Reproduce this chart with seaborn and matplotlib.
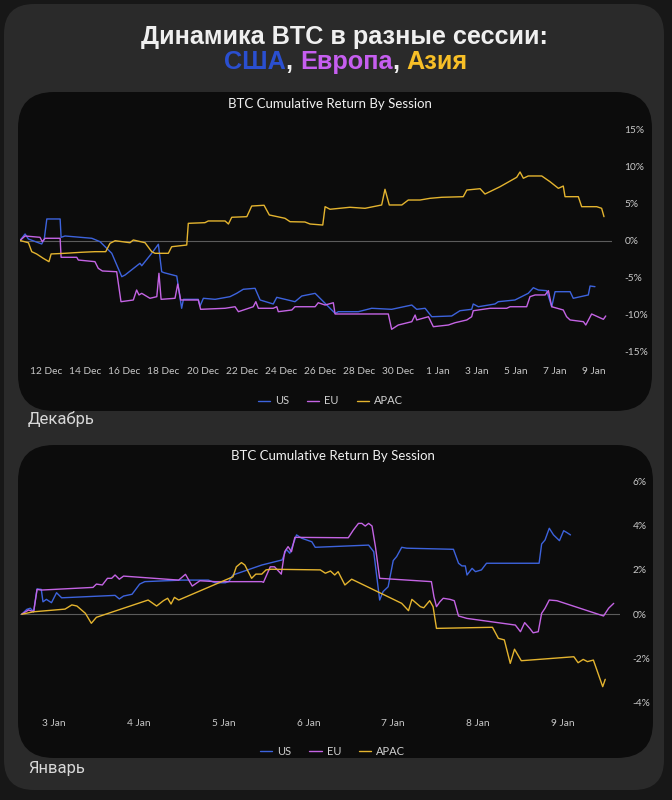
import pandas as pd
import seaborn as sns
import matplotlib.pyplot as plt
import matplotlib.dates as mdates
from matplotlib.ticker import FuncFormatter
from matplotlib.patches import FancyBboxPatch

# ---- December panel: time = days since 10 Dec 2024, ret = cumulative return, %
us_dec_t = [0.67, 0.93, 1.10, 1.78, 1.91, 2.04, 2.72, 2.77, 2.97, 4.34, 4.76, 5.36, 5.87, 6.04, 6.80,
            6.89, 7.40, 7.74, 7.91, 8.03, 8.68, 8.85, 8.93, 9.02, 9.78, 9.87, 10.04, 10.64, 11.40, 11.74,
            12.08, 12.68, 12.94, 13.61, 13.79, 14.72, 15.07, 15.75, 16.09, 16.77, 16.94, 17.96, 18.64,
            19.66, 20.69, 20.94, 21.37, 21.71, 22.73, 23.15, 23.75, 23.83, 24.09, 24.94, 25.11, 25.96,
            26.64, 26.90, 27.16, 27.58, 27.84, 28.01, 28.78, 28.94, 29.71, 29.80, 30.05]
us_dec_r = [0.00, 0.88, 0.20, -0.47, 0.20, 2.91, 2.91, 0.43, 0.61, 0.30, -0.16, -1.73, -4.89, -4.66, -3.08,
            -3.41, -1.73, -0.51, -4.22, -4.35, -4.80, -7.81, -9.16, -7.95, -7.95, -8.85, -7.81, -7.95, -7.59,
            -7.14, -6.59, -6.46, -8.04, -8.58, -7.68, -8.27, -7.50, -7.14, -8.04, -9.84, -9.62, -9.62, -9.16,
            -9.30, -8.72, -9.30, -9.16, -10.30, -10.20, -9.49, -9.30, -8.58, -8.95, -8.58, -8.27, -8.04,
            -7.14, -6.38, -6.69, -6.78, -8.95, -6.92, -6.92, -7.81, -7.36, -6.15, -6.24]

eu_dec_t = [0.67, 0.93, 1.69, 1.81, 1.95, 2.72, 2.77, 3.57, 3.65, 4.50, 4.67, 4.88, 5.61, 5.83, 6.46,
            6.63, 6.75, 6.89, 7.31, 7.66, 7.77, 7.88, 8.59, 8.73, 8.88, 9.78, 9.90, 11.15, 11.66, 11.83,
            12.59, 12.72, 12.85, 13.61, 13.79, 13.87, 14.56, 14.72, 15.75, 15.91, 16.26, 16.68, 16.77,
            19.49, 19.66, 20.00, 20.69, 20.86, 20.94, 21.54, 21.79, 22.56, 22.90, 23.50, 23.75, 23.83,
            24.69, 25.54, 25.71, 26.56, 26.73, 26.99, 27.50, 27.67, 27.84, 28.43, 28.60, 28.78, 29.46,
            29.58, 29.88, 30.48, 30.60]
eu_dec_r = [0.00, 0.61, 0.43, -0.16, 0.30, 0.30, -2.27, -2.27, -2.64, -2.86, -3.76, -4.12, -4.22, -8.27,
            -8.04, -6.69, -7.36, -7.14, -7.81, -7.59, -4.43, -7.95, -7.81, -5.88, -8.04, -8.04, -9.30, -9.16,
            -8.95, -9.62, -8.95, -8.27, -9.16, -9.16, -8.95, -9.62, -9.39, -8.95, -8.95, -8.41, -8.72, -8.41,
            -9.93, -9.93, -12.00, -11.42, -10.97, -10.07, -10.74, -10.30, -11.65, -11.42, -11.11, -10.74,
            -10.30, -9.49, -9.16, -9.16, -8.95, -8.95, -7.59, -7.36, -7.36, -6.78, -8.95, -9.39, -10.30,
            -10.74, -10.97, -11.42, -9.93, -10.65, -10.20]

apac_dec_t = [0.67, 1.10, 1.27, 1.52, 1.86, 2.15, 2.26, 2.97, 3.82, 4.50, 5.05, 5.27, 5.53, 6.29, 6.46,
              7.06, 7.40, 7.57, 8.25, 8.42, 9.19, 9.27, 10.12, 10.29, 11.15, 11.32, 11.49, 12.26, 12.51,
              13.14, 13.41, 14.21, 14.47, 15.23, 15.49, 16.14, 16.26, 16.51, 17.53, 18.30, 19.15, 19.32,
              19.54, 20.18, 20.51, 21.11, 21.62, 22.22, 23.32, 23.50, 24.18, 24.43, 25.20, 26.05, 26.22,
              26.39, 26.64, 27.33, 27.75, 28.18, 28.43, 28.52, 29.20, 29.37, 30.14, 30.39, 30.51]
apac_dec_r = [0.00, -0.30, -1.51, -1.82, -2.41, -2.86, -1.82, -1.73, -1.59, -1.51, -1.51, -0.38, -0.03,
              -0.30, 0.07, -0.30, -1.51, -1.73, -1.73, -0.84, -0.61, 2.32, 2.41, 2.64, 2.64, 2.23, 3.14,
              3.22, 4.66, 4.76, 3.45, 3.00, 2.54, 2.50, 2.23, 2.09, 4.57, 4.22, 4.49, 4.35, 4.80, 6.92,
              4.80, 4.80, 5.47, 5.47, 5.70, 5.84, 5.92, 6.82, 7.00, 6.28, 7.27, 8.54, 9.26, 8.41, 8.72,
              8.72, 7.95, 7.05, 7.36, 5.92, 5.92, 4.57, 4.57, 4.35, 3.22]

# ---- January panel: time = days since 2 Jan 2025
us_jan_t = [0.62, 0.68, 0.72, 0.76, 0.80, 0.85, 0.87, 0.91, 0.97, 1.03, 1.09, 1.72, 1.77, 1.82, 1.92,
            2.01, 2.07, 2.51, 2.82, 2.90, 3.02, 3.06, 3.11, 3.45, 3.69, 3.74, 3.78, 3.86, 3.92, 4.04,
            4.08, 4.71, 4.77, 4.84, 4.88, 4.94, 5.00, 5.04, 5.10, 5.16, 5.71, 5.77, 5.81, 5.85, 5.87,
            5.93, 5.97, 6.04, 6.10, 6.72, 6.75, 6.79, 6.84, 6.89, 6.96, 7.01, 7.05, 7.09]
us_jan_r = [0.00, 0.22, 0.27, 0.11, 1.14, 1.12, 0.56, 0.67, 0.52, 0.97, 0.74, 0.85, 0.69, 0.82, 0.90,
            1.36, 1.47, 1.54, 1.54, 1.42, 1.42, 1.47, 1.77, 2.22, 2.45, 2.93, 2.75, 3.58, 3.43, 3.27,
            3.02, 3.12, 2.82, 0.64, 1.02, 1.24, 2.42, 2.60, 3.02, 2.98, 2.93, 2.30, 2.18, 2.18, 1.77,
            2.07, 1.92, 2.00, 2.30, 2.30, 3.17, 3.35, 3.88, 3.58, 3.32, 3.77, 3.68, 3.58]

eu_jan_t = [0.62, 0.70, 0.76, 0.80, 0.85, 1.46, 1.50, 1.57, 1.63, 1.68, 1.72, 1.77, 1.82, 2.47, 2.55,
            2.63, 2.72, 2.90, 3.45, 3.47, 3.55, 3.60, 3.68, 3.72, 3.76, 3.80, 3.84, 4.47, 4.53, 4.59,
            4.63, 4.67, 4.71, 4.75, 4.79, 4.84, 5.45, 5.48, 5.51, 5.55, 5.59, 5.67, 5.72, 5.77, 5.87,
            6.44, 6.50, 6.55, 6.61, 6.65, 6.71, 6.75, 6.79, 6.84, 6.93, 7.48, 7.54, 7.60]
eu_jan_r = [0.00, 0.19, 0.11, 1.12, 1.09, 1.21, 1.36, 1.32, 1.62, 1.62, 1.77, 1.58, 1.72, 1.54, 1.80,
            1.27, 1.51, 1.47, 1.47, 1.44, 2.14, 2.14, 1.81, 2.82, 3.05, 2.82, 3.47, 3.45, 3.80, 4.10,
            4.10, 3.98, 4.10, 3.98, 3.05, 1.62, 1.47, 0.79, 0.34, 0.56, 0.72, 0.67, 0.61, -0.08, -0.19,
            -0.49, -0.79, -0.38, -0.64, -0.84, -0.79, 0.04, 0.27, 0.64, 0.61, -0.08, 0.27, 0.49]

apac_jan_t = [0.62, 0.76, 1.13, 1.21, 1.27, 1.37, 1.44, 1.50, 2.11, 2.21, 2.29, 2.34, 2.38, 2.42, 2.47,
              3.11, 3.15, 3.21, 3.25, 3.33, 3.38, 3.45, 3.50, 3.56, 4.14, 4.20, 4.26, 4.31, 4.35, 4.43,
              4.51, 4.57, 5.10, 5.18, 5.22, 5.32, 5.36, 5.43, 5.47, 5.51, 6.17, 6.24, 6.31, 6.38, 6.43,
              6.51, 7.13, 7.18, 7.24, 7.29, 7.36, 7.47, 7.50]
apac_jan_r = [0.00, 0.11, 0.23, 0.42, 0.37, 0.04, -0.41, -0.14, 0.64, 0.37, 0.61, 0.72, 0.46, 0.76, 0.64,
              1.69, 2.14, 2.33, 2.22, 1.62, 1.81, 1.81, 2.00, 2.03, 2.00, 1.85, 1.95, 1.77, 1.92, 1.32,
              1.58, 1.47, 0.49, 0.16, 0.67, 0.34, 0.29, 0.61, 0.34, -0.64, -0.59, -1.09, -1.16, -2.22,
              -1.58, -2.10, -1.92, -2.19, -2.04, -2.14, -2.07, -3.27, -2.94]

sessions = ['US', 'EU', 'APAC']
dec_ticks = pd.date_range('2024-12-12', '2025-01-09', freq='2D')
jan_ticks = pd.date_range('2025-01-03', '2025-01-09', freq='D')
dec_yticks = [-15, -10, -5, 0, 5, 10, 15]
jan_yticks = [-4, -2, 0, 2, 4, 6]

palette = {'US': '#3d63dd', 'EU': '#c464e4', 'APAC': '#e4b42f'}


def make_frame(start, series):
    parts = []
    for name, (t, r) in zip(sessions, series):
        parts.append(pd.DataFrame({'time': pd.Timestamp(start) + pd.to_timedelta(t, unit='D'),
                                   'ret': r, 'session': name}))
    return pd.concat(parts, ignore_index=True)


dec_df = make_frame('2024-12-10', [(us_dec_t, us_dec_r), (eu_dec_t, eu_dec_r), (apac_dec_t, apac_dec_r)])
jan_df = make_frame('2025-01-02', [(us_jan_t, us_jan_r), (eu_jan_t, eu_jan_r), (apac_jan_t, apac_jan_r)])

sns.set_style('dark')
plt.rcParams['font.family'] = ['Lato', 'DejaVu Sans']

W, H = 672, 800
fig = plt.figure(figsize=(W / 100, H / 100), dpi=100)
fig.patch.set_facecolor('#171717')

# background layer in pixel coordinates
bg = fig.add_axes([0, 0, 1, 1])
bg.set_xlim(0, W)
bg.set_ylim(H, 0)
bg.axis('off')


def rbox(x0, y0, x1, y1, r, color):
    bg.add_patch(FancyBboxPatch((x0, y0), x1 - x0, y1 - y0,
                                boxstyle=f'round,pad=0,rounding_size={r}', fc=color, ec='none'))


rbox(4, 4, 664, 790, 30, '#2a2a2a')
rbox(18, 92, 652, 411, 36, '#0c0c0c')
rbox(18, 445, 653, 758, 36, '#0c0c0c')


def px_axes(x0, y0, x1, y1):
    return fig.add_axes([x0 / W, 1 - y1 / H, (x1 - x0) / W, (y1 - y0) / H])


def draw(ax, df, start, xlim, ylim, yticks, xticks, leg_xy):
    sns.lineplot(data=df, x='time', y='ret', hue='session', hue_order=sessions, palette=palette,
                 estimator=None, sort=False, linewidth=1.0, ax=ax)
    ax.axhline(0, color='#5c5c5c', lw=0.8, zorder=0)
    ax.set_facecolor('none')
    t0 = pd.Timestamp(start)
    ax.set_xlim(t0 + pd.Timedelta(days=xlim[0]), t0 + pd.Timedelta(days=xlim[1]))
    ax.set_ylim(ylim)
    ax.yaxis.tick_right()
    ax.set_yticks(yticks)
    ax.yaxis.set_major_formatter(FuncFormatter(lambda v, p: f'{v:.0f}%'))
    ax.set_xticks(xticks)
    ax.xaxis.set_major_formatter(mdates.DateFormatter('%-d %b'))
    ax.tick_params(length=0, colors='#c8c8c8', labelsize=7.3)
    ax.tick_params(axis='y', pad=9)
    ax.tick_params(axis='x', pad=3)
    for s in ax.spines.values():
        s.set_visible(False)
    ax.grid(False)
    ax.set_xlabel('')
    ax.set_ylabel('')
    h, l = ax.get_legend_handles_labels()
    leg = ax.legend(h, l, loc='center', bbox_to_anchor=leg_xy, ncol=3, frameon=False, fontsize=8,
                    handlelength=1.1, handletextpad=0.45, columnspacing=1.6)
    for txt in leg.get_texts():
        txt.set_color('#d0d0d0')


ax1 = px_axes(20, 118.4, 612, 362.6)
draw(ax1, dec_df, '2024-12-10', (0.67, 30.92), (-16.5, 16.5), dec_yticks, dec_ticks, (0.5245, -0.157))

ax2 = px_axes(20, 468, 620, 715)
draw(ax2, jan_df, '2025-01-02', (0.599, 7.674), (-4.55, 6.6), jan_yticks, jan_ticks, (0.521, -0.149))

# texts
bg.text(330, 104, 'BTC Cumulative Return By Session', ha='center', va='center', color='#f0f0f0', fontsize=9.5)
bg.text(333, 456, 'BTC Cumulative Return By Session', ha='center', va='center', color='#f0f0f0', fontsize=9.5)
bg.text(28, 419, 'Декабрь', ha='left', va='center', color='#d8d8d8', fontsize=12, family='Roboto')
bg.text(28, 768, 'Январь', ha='left', va='center', color='#d8d8d8', fontsize=12, family='Roboto')

bg.text(344, 37, 'Динамика BTC в разные сессии:', ha='center', va='center', color='#efefef',
        fontsize=18.2, fontweight='bold', family='Liberation Sans')

pieces = [('США', '#2a4fd0'), (', ', '#efefef'), ('Европа', '#c65ef0'), (', ', '#efefef'), ('Азия', '#f7bf27')]
renderer = fig.canvas.get_renderer()
parts = [bg.text(0, 62, s, color=c, fontsize=18.2, fontweight='bold', family='Liberation Sans',
                 ha='left', va='center') for s, c in pieces]
widths = [p.get_window_extent(renderer).width for p in parts]
x = 346 - sum(widths) / 2
for p, w in zip(parts, widths):
    p.set_x(x)
    x += w

fig.savefig('out.png', dpi=100, facecolor=fig.get_facecolor())
